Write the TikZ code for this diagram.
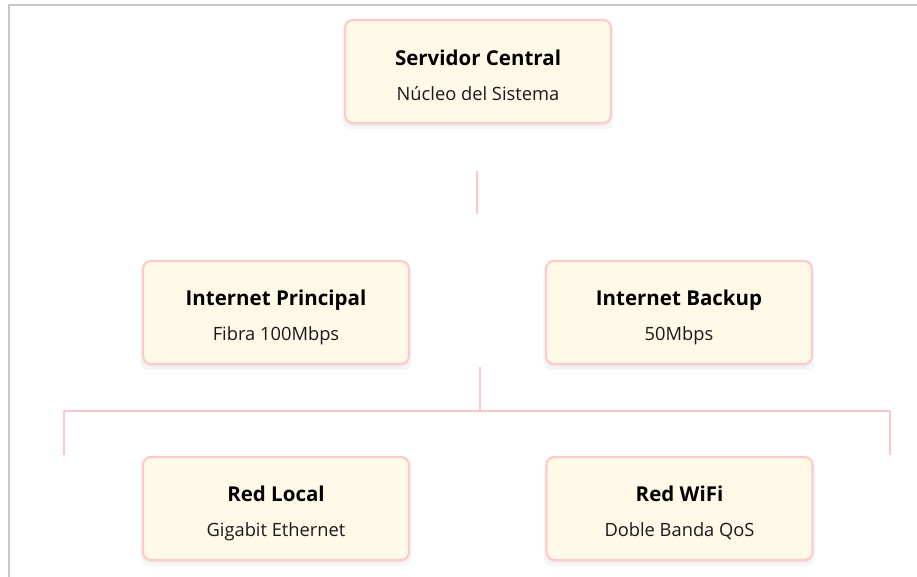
\documentclass[tikz,border=0pt]{standalone}
\usepackage{fontspec}
\setmainfont{Open Sans}
\usetikzlibrary{shadows}
\definecolor{boxfill}{HTML}{FFFAE8}
\definecolor{boxline}{HTML}{FFCACA}
\definecolor{linkcol}{HTML}{FFC8C8}
\definecolor{framecol}{HTML}{C8C8C8}
\tikzset{
  box/.style={draw=boxline, line width=2.2pt, fill=boxfill, rounded corners=8pt,
    minimum width=266pt, minimum height=103pt, inner sep=0pt,
    drop shadow={opacity=0.07, shadow xshift=0pt, shadow yshift=-5pt, shadow scale=1.02},
    drop shadow={opacity=0.07, shadow xshift=0pt, shadow yshift=-3pt}},
  ttl/.style={anchor=base, font=\fontsize{20.5}{24}\selectfont\bfseries, text=black, inner sep=0pt},
  sub/.style={anchor=base, font=\fontsize{18.3}{22}\selectfont, text=black!90, inner sep=0pt},
  link/.style={draw=linkcol, line width=2.2pt},
  frame/.style={draw=framecol, line width=1.6pt}
}
\begin{document}
\begin{tikzpicture}[x=1pt,y=-1pt]
\fill[white] (0,0) rectangle (917,576);
\useasboundingbox (0,0) rectangle (917,576);
\draw[frame] (9,580) -- (9,5) -- (920,5);

\node[box] (s) at (478,71.5) {};
\node[ttl, yshift=6.5pt] (st) at (s.center) {Servidor Central};
\node[sub, yshift=-28.5pt] (ss) at (s.center) {Núcleo del Sistema};

\node[box] (ip) at (276,312.5) {};
\node[ttl, yshift=7.5pt] (ipt) at (ip.center) {Internet Principal};
\node[sub, yshift=-28pt] (ips) at (ip.center) {Fibra 100Mbps};

\node[box] (ib) at (679,312.5) {};
\node[ttl, yshift=7.5pt] (ibt) at (ib.center) {Internet Backup};
\node[sub, yshift=-28pt] (ibs) at (ib.center) {50Mbps};

\node[box] (rl) at (276,508.5) {};
\node[ttl, yshift=7.5pt] (rlt) at (rl.center) {Red Local};
\node[sub, yshift=-28pt] (rls) at (rl.center) {Gigabit Ethernet};

\node[box] (rw) at (679.5,508.5) {};
\node[ttl, yshift=7.5pt] (rwt) at (rw.center) {Red WiFi};
\node[sub, yshift=-28pt] (rws) at (rw.center) {Doble Banda QoS};

\coordinate (c1a) at (477,171);
\coordinate (c1b) at (477,214);
\draw[link] (c1a) -- (c1b);

\coordinate (bt) at (480,367);
\coordinate (bm) at (480,411);
\coordinate (bl) at (64,411);
\coordinate (br) at (890,411);
\coordinate (bld) at (64,455);
\coordinate (brd) at (890,455);
\draw[link] (bt) -- (bm);
\draw[link] (bld) -- (bl) -- (br) -- (brd);
\end{tikzpicture}
\end{document}
